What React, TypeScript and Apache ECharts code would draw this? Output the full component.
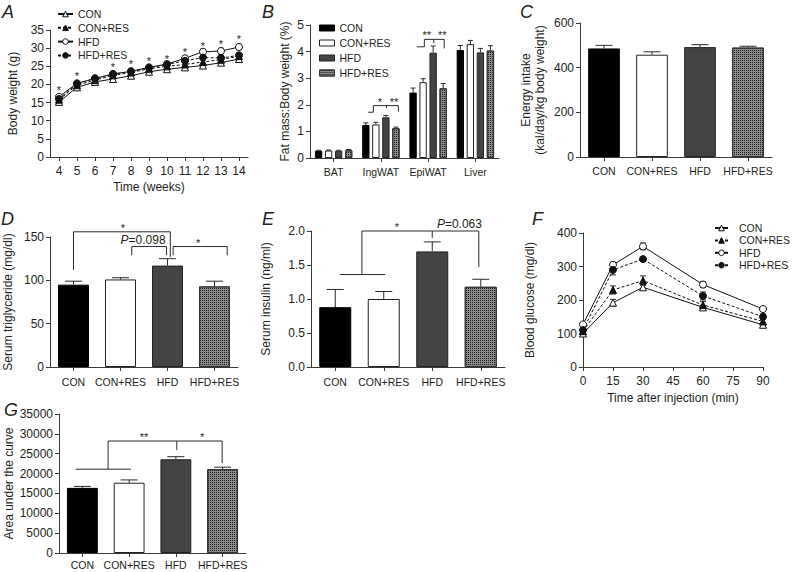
import React, { useEffect, useRef } from 'react';
import * as echarts from 'echarts';

// ---------- data ----------
const groups = ['CON', 'CON+RES', 'HFD', 'HFD+RES'];

// Panel A: body weight (g)
const weeks = ['4', '5', '6', '7', '8', '9', '10', '11', '12', '13', '14'];
const aCON = [15.2, 19.2, 20.7, 21.5, 22.4, 23.5, 24.2, 24.7, 25.2, 26.0, 27.0];
const aCONRES = [15.8, 19.8, 21.2, 22.5, 23.3, 24.3, 25.0, 25.5, 26.2, 26.8, 27.8];
const aHFD = [16.6, 20.3, 21.6, 22.9, 23.6, 24.7, 25.6, 27.2, 29.0, 29.2, 30.3];
const aHFDRES = [16.0, 20.2, 21.7, 22.8, 23.6, 24.6, 25.5, 26.5, 27.4, 27.3, 28.0];
const aCONerr = [0.5, 0.5, 0.4, 0.4, 0.4, 0.4, 0.4, 0.5, 0.5, 0.5, 0.5];
const aCONRESerr = [0.5, 0.5, 0.5, 0.5, 0.5, 0.5, 0.5, 0.6, 0.6, 0.6, 0.6];
const aHFDerr = [0.6, 0.5, 0.5, 0.6, 0.5, 0.6, 0.6, 0.7, 0.8, 0.8, 0.8];
const aHFDRESerr = [0.6, 0.5, 0.5, 0.5, 0.5, 0.5, 0.6, 0.6, 0.7, 0.7, 0.7];
const aStars = [19.2, 22.9, null, 25.4, 26.2, 27.2, 27.8, 29.5, 31.3, 31.8, 33.1];

// Panel B: fat mass : body weight (%)
const tissues = ['BAT', 'IngWAT', 'EpiWAT', 'Liver'];
const bCON = [0.27, 1.24, 2.46, 4.06];
const bCONRES = [0.28, 1.26, 2.85, 4.28];
const bHFD = [0.27, 1.53, 3.96, 3.97];
const bHFDRES = [0.29, 1.12, 2.62, 4.04];
const bCONerr = [0.02, 0.08, 0.17, 0.17];
const bCONRESerr = [0.02, 0.08, 0.13, 0.14];
const bHFDerr = [0.02, 0.07, 0.25, 0.15];
const bHFDRESerr = [0.03, 0.04, 0.18, 0.18];

// Panel C: energy intake
const cMean = [486, 458, 492, 490];
const cErr = [14, 13, 11, 6];
// Panel D: serum triglyceride
const dMean = [95, 101, 117, 93];
const dErr = [4, 2, 8, 6];
// Panel E: serum insulin
const eMean = [0.88, 1.0, 1.7, 1.18];
const eErr = [0.26, 0.11, 0.14, 0.11];
// Panel F: blood glucose (GTT)
const fTimes = [0, 15, 30, 60, 90];
const fCON = [100, 192, 238, 178, 126];
const fCONRES = [107, 230, 258, 185, 136];
const fHFD = [127, 305, 360, 246, 173];
const fHFDRES = [110, 290, 322, 212, 150];
const fCONerr = [5, 10, 8, 6, 5];
const fCONRESerr = [6, 12, 14, 10, 6];
const fHFDerr = [5, 8, 10, 9, 4];
const fHFDRESerr = [5, 15, 5, 12, 8];
// Panel G: area under the curve
const gMean = [16400, 17700, 23600, 21100];
const gErr = [370, 700, 650, 500];

// significance annotations: path in (category units from first category, value)
const bBrackets = [
  { path: [[0.73, 1.72], [0.84, 1.72], [0.84, 1.97], [1.37, 1.97], [1.37, 1.74]], labels: [['*', 0.98, 1.97], ['**', 1.28, 1.97]] },
  { path: [[1.12, 1.97], [1.12, 1.87]], labels: [] },
  { path: [[1.76, 4.18], [1.92, 4.18], [1.92, 4.46], [2.34, 4.46], [2.34, 4.12]], labels: [['**', 1.97, 4.46], ['**', 2.3, 4.46]] },
  { path: [[2.12, 4.46], [2.12, 4.31]], labels: [] },
];
const dBrackets = [
  { path: [[0, 112], [0, 156], [2.06, 156], [2.06, 127]], labels: [['*', 1.05, 156]] },
  { path: [[1.24, 129], [1.24, 139], [1.98, 139], [1.98, 129]], labels: [['P=0.098', 1.48, 139]] },
  { path: [[2.12, 129], [2.12, 139], [3.27, 139], [3.27, 129]], labels: [['*', 2.65, 139]] },
];
const eBrackets = [
  { path: [[0.1, 1.36], [1.03, 1.36]], labels: [] },
  { path: [[0.55, 1.36], [0.55, 2.0], [2.0, 2.0], [2.0, 1.9]], labels: [['*', 1.27, 2.0]] },
  { path: [[2.0, 2.0], [2.96, 2.0], [2.96, 1.47]], labels: [['P=0.063', 2.56, 2.0]] },
];
const gBrackets = [
  { path: [[-0.14, 21100], [1.04, 21100]], labels: [] },
  { path: [[0.55, 21100], [0.55, 28200], [2.02, 28200], [2.02, 25900]], labels: [['**', 1.32, 28200]] },
  { path: [[2.02, 28200], [2.99, 28200], [2.99, 22650]], labels: [['*', 2.56, 28200]] },
];

// ---------- styles ----------
const FONT = 'Liberation Sans, Arial, Helvetica, sans-serif';
const TXT = '#231f20';
const AX = '#3a3a3a';
const LN = '#2a2a2a';

const checker = {
  symbol: 'rect',
  symbolSize: 1,
  dashArrayX: [1, 1],
  dashArrayY: [1, 1],
  color: '#1e1e1e',
  rotation: 0,
};
const barStyles: any[] = [
  { color: '#000', borderColor: '#000', borderWidth: 1 },
  { color: '#fff', borderColor: '#222', borderWidth: 1 },
  { color: '#444', borderColor: '#222', borderWidth: 1 },
  { color: '#8a8a8a', borderColor: '#333', borderWidth: 1, decal: checker },
];
const lineLook: any[] = [
  { symbol: 'triangle', fill: '#fff', dash: 'solid' },
  { symbol: 'triangle', fill: '#111', dash: [3, 2] },
  { symbol: 'circle', fill: '#fff', dash: 'solid' },
  { symbol: 'circle', fill: '#111', dash: [3, 2] },
];

function valueAxis(grid: number, min: number, max: number, interval: number, name: string, gap: number, fmt?: any) {
  return {
    type: 'value', gridIndex: grid, min, max, interval,
    name, nameLocation: 'middle', nameGap: gap,
    nameTextStyle: { fontFamily: FONT, fontSize: 12, color: TXT, lineHeight: 14, fontWeight: 'normal' },
    axisLine: { show: true, lineStyle: { color: AX, width: 1 } },
    axisTick: { show: true, length: 4, lineStyle: { color: AX, width: 1 } },
    splitLine: { show: false },
    axisLabel: { fontFamily: FONT, fontSize: 12, color: TXT, margin: 6, formatter: fmt || ((v: number) => String(v)) },
  };
}
function catAxis(grid: number, data: string[], fontSize: number, margin: number, name?: string, gap?: number) {
  return {
    type: 'category', gridIndex: grid, data, boundaryGap: true,
    name: name || '', nameLocation: 'middle', nameGap: gap || 0,
    nameTextStyle: { fontFamily: FONT, fontSize: 12, color: TXT, fontWeight: 'normal' },
    axisLine: { show: true, lineStyle: { color: AX, width: 1 } },
    axisTick: { show: true, length: 4, alignWithLabel: true, lineStyle: { color: AX, width: 1 } },
    axisLabel: { fontFamily: FONT, fontSize, color: TXT, margin, interval: 0 },
    splitLine: { show: false },
  };
}

function errSeries(grid: number, rows: number[][], cap: number, both: boolean, offsetFrac: number) {
  return {
    type: 'custom', xAxisIndex: grid, yAxisIndex: grid, silent: true, z: both ? 2 : 4,
    data: rows,
    renderItem: (params: any, api: any) => {
      const xv = api.value(0), m = api.value(1), e = api.value(2);
      const p = api.coord([xv, m]);
      const band = api.size([1, 0])[0];
      const x = p[0] + offsetFrac * band;
      const top = api.coord([xv, m + e])[1];
      const bot = both ? api.coord([xv, m - e])[1] : p[1];
      const st = { stroke: LN, lineWidth: 1 };
      const ch: any[] = [
        { type: 'line', shape: { x1: x, y1: bot, x2: x, y2: top }, style: st },
        { type: 'line', shape: { x1: x - cap / 2, y1: top, x2: x + cap / 2, y2: top }, style: st },
      ];
      if (both) ch.push({ type: 'line', shape: { x1: x - cap / 2, y1: bot, x2: x + cap / 2, y2: bot }, style: st });
      return { type: 'group', children: ch };
    },
  };
}

function bracketSeries(grid: number, specs: any[]) {
  return {
    type: 'custom', xAxisIndex: grid, yAxisIndex: grid, silent: true, z: 6,
    data: specs.map((_: any, i: number) => [0, 0, i]),
    renderItem: (params: any, api: any) => {
      const s = specs[params.dataIndex];
      const c0 = api.coord([0, 0])[0];
      const band = api.size([1, 0])[0];
      const pt = (xf: number, y: number) => [c0 + xf * band, api.coord([0, y])[1]];
      const ch: any[] = [
        { type: 'polyline', shape: { points: s.path.map((p: number[]) => pt(p[0], p[1])) }, style: { stroke: LN, lineWidth: 1, fill: 'none' } },
      ];
      s.labels.forEach((l: any[]) => {
        const q = pt(l[1], l[2]);
        const isP = String(l[0]).charAt(0) === 'P';
        ch.push({
          type: 'text', x: q[0], y: q[1] + (isP ? -7 : -4),
          style: {
            text: isP ? '{i|P}' + String(l[0]).slice(1) : l[0],
            align: 'center', verticalAlign: 'middle',
            fontSize: isP ? 12 : 11, fontFamily: FONT, fill: TXT,
            rich: { i: { fontStyle: 'italic', fontSize: 12, fontFamily: FONT, fill: TXT } },
          },
        });
      });
      return { type: 'group', children: ch };
    },
  };
}

function singleBars(grid: number, mean: number[], err: number[]) {
  return [
    {
      type: 'bar', xAxisIndex: grid, yAxisIndex: grid, barWidth: '66%', z: 3,
      data: mean.map((v, i) => ({ value: v, itemStyle: barStyles[i] })),
    },
    errSeries(grid, mean.map((v, i) => [i, v, err[i]]), 17, false, 0),
  ];
}

function lineSet(grid: number, xs: any[], sets: number[][], errs: number[][], size: number, cap: number, names: string[]) {
  const out: any[] = [];
  sets.forEach((vals, k) => {
    const L = lineLook[k];
    out.push({
      type: 'line', name: names[k], xAxisIndex: grid, yAxisIndex: grid, z: 3,
      data: vals.map((v, i) => [xs[i], v]),
      symbol: L.symbol, symbolSize: size, showSymbol: true,
      itemStyle: { color: L.fill, borderColor: '#111', borderWidth: 1 },
      lineStyle: { color: '#111', width: 1, type: L.dash },
    });
    out.push(errSeries(grid, vals.map((v, i) => [xs[i], v, errs[k][i]]), cap, true, 0));
  });
  return out;
}

const bSets = [bCON, bCONRES, bHFD, bHFDRES];
const bErrs = [bCONerr, bCONRESerr, bHFDerr, bHFDRESerr];
const bNames = groups.map((g) => g + ' ');
const BW = 0.155, BG = 0.37;

const legendText = { fontFamily: FONT, fontSize: 10.5, color: TXT, lineHeight: 12, fontWeight: 'normal' };

function buildOption() {
  const series: any[] = [];
  // A
  series.push(...lineSet(0, weeks.map((_, i) => i), [aCON, aCONRES, aHFD, aHFDRES], [aCONerr, aCONRESerr, aHFDerr, aHFDRESerr], 7, 5, groups));
  series.push({
    type: 'custom', xAxisIndex: 0, yAxisIndex: 0, silent: true, z: 5,
    data: aStars.map((v, i) => [i, v]).filter((r) => r[1] !== null),
    renderItem: (params: any, api: any) => {
      const p = api.coord([api.value(0), api.value(1)]);
      return { type: 'text', x: p[0], y: p[1] + 2.4, style: { text: '*', align: 'center', verticalAlign: 'middle', fontSize: 11, fontFamily: FONT, fill: TXT } };
    },
  });
  // B
  bSets.forEach((vals, k) => {
    series.push({
      type: 'bar', name: bNames[k], xAxisIndex: 1, yAxisIndex: 1, z: 3,
      barWidth: (BW * 100) + '%', barGap: (BG * 100) + '%',
      itemStyle: barStyles[k], data: vals,
    });
    series.push(errSeries(1, vals.map((v, i) => [i, v, bErrs[k][i]]), 5, false, (k - 1.5) * BW * (1 + BG)));
  });
  series.push(bracketSeries(1, bBrackets));
  // C, D, E, G
  series.push(...singleBars(2, cMean, cErr));
  series.push(...singleBars(3, dMean, dErr));
  series.push(bracketSeries(3, dBrackets));
  series.push(...singleBars(4, eMean, eErr));
  series.push(bracketSeries(4, eBrackets));
  // F
  series.push(...lineSet(5, fTimes, [fCON, fCONRES, fHFD, fHFDRES], [fCONerr, fCONRESerr, fHFDerr, fHFDRESerr], 7, 6, groups));
  // G
  series.push(...singleBars(6, gMean, gErr));
  series.push(bracketSeries(6, gBrackets));

  const letters = [
    ['A', 2, 3], ['B', 262, 3], ['C', 520, 3], ['D', 1, 210], ['E', 262, 210], ['F', 532, 210], ['G', 4, 401],
  ];

  return {
    animation: false,
    backgroundColor: '#fff',
    textStyle: { fontFamily: FONT },
    grid: [
      { left: 50, top: 30, width: 198, height: 127 },
      { left: 310, top: 25, width: 189, height: 133 },
      { left: 580, top: 23, width: 192, height: 134 },
      { left: 49, top: 237, width: 189, height: 130 },
      { left: 311, top: 231, width: 194, height: 136 },
      { left: 583, top: 233, width: 180, height: 134 },
      { left: 59, top: 414, width: 187, height: 139 },
    ],
    xAxis: [
      catAxis(0, weeks, 12, 8, 'Time (weeks)', 24),
      catAxis(1, tissues, 10.5, 8),
      catAxis(2, groups, 10.5, 8),
      catAxis(3, groups, 10.5, 9),
      catAxis(4, groups, 10.5, 9),
      {
        ...valueAxis(5, 0, 90, 15, 'Time after injection (min)', 24),
        axisLabel: { fontFamily: FONT, fontSize: 12, color: TXT, margin: 8 },
      },
      catAxis(6, groups, 10.5, 6),
    ],
    yAxis: [
      valueAxis(0, 0, 35, 5, 'Body weight (g)', 30),
      valueAxis(1, 0, 5, 1, 'Fat mass:Body weight (%)', 18),
      valueAxis(2, 0, 600, 200, 'Energy intake\n(kal/day/kg body weight)', 33),
      valueAxis(3, 0, 150, 50, 'Serum triglyceride (mg/dl)', 35),
      valueAxis(4, 0, 2, 0.5, 'Serum insulin (ng/ml)', 38, (v: number) => v.toFixed(1)),
      valueAxis(5, 0, 400, 100, 'Blood glucose (mg/dl)', 46),
      valueAxis(6, 0, 35000, 5000, 'Area under the curve', 42),
    ],
    legend: [
      {
        data: groups, orient: 'vertical', left: 57, top: 8, padding: 0, itemWidth: 15, itemHeight: 7, itemGap: 1.8,
        selectedMode: false, textStyle: legendText, itemStyle: { borderWidth: 1 },
      },
      {
        data: bNames, orient: 'vertical', left: 319, top: 22, padding: 0, itemWidth: 15, itemHeight: 6, itemGap: 3, icon: 'rect',
        selectedMode: false, textStyle: legendText, itemStyle: { borderWidth: 1 },
      },
      {
        data: groups, orient: 'vertical', left: 714, top: 222, padding: 0, itemWidth: 13, itemHeight: 7, itemGap: 0.4,
        selectedMode: false, textStyle: { ...legendText, padding: [0, 0, 0, 6] }, itemStyle: { borderWidth: 1 },
      },
    ],
    graphic: letters.map((l) => ({
      type: 'text', left: l[1], top: l[2],
      style: { text: l[0], font: 'italic 18px Liberation Sans, Arial, sans-serif', fill: TXT },
    })),
    series,
  };
}

export default function App() {
  const ref = useRef<HTMLDivElement>(null);
  useEffect(() => {
    if (!ref.current) return;
    const chart = echarts.init(ref.current, null, { renderer: 'svg' });
    chart.setOption(buildOption() as any);
    return () => chart.dispose();
  }, []);
  return (
    <div
      ref={ref}
      style={{ position: 'absolute', left: 0, top: 0, width: 792, height: 572, background: '#fff' }}
    />
  );
}
